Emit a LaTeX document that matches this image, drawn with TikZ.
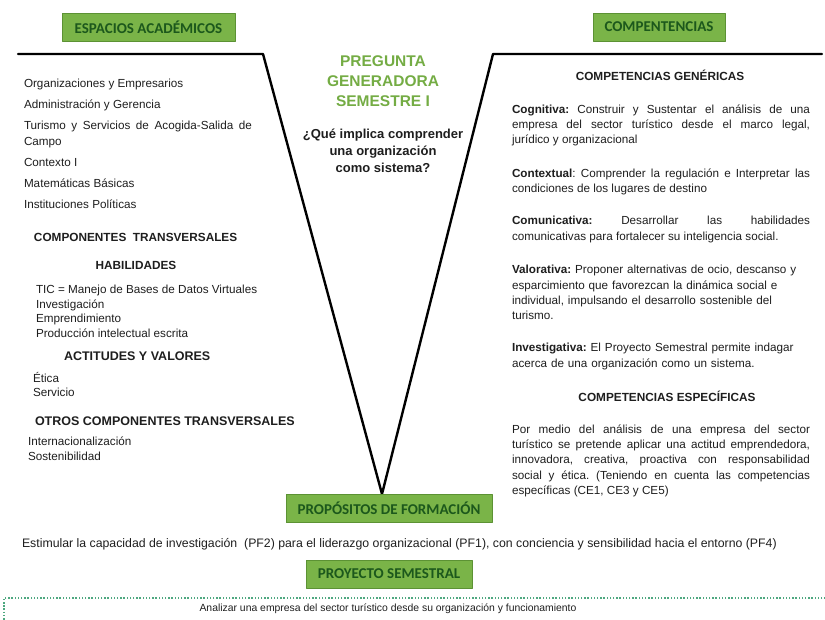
\documentclass[tikz,border=0pt]{standalone}
\usepackage{fontspec}
\setmainfont{Liberation Sans}
\newfontfamily\labelfont{Carlito}
\usetikzlibrary{positioning}
\definecolor{boxfill}{RGB}{122,180,72}
\definecolor{boxline}{RGB}{92,146,52}
\definecolor{boxtext}{RGB}{28,88,28}
\definecolor{pregreen}{RGB}{116,172,68}
\definecolor{dotline}{RGB}{78,168,128}
\definecolor{bodytext}{RGB}{30,30,30}

\begin{document}
\begin{tikzpicture}[x=1pt,y=-1pt,inner sep=0pt,outer sep=0pt,line cap=round,line join=round
  ,greenbox/.style={draw=boxline,fill=boxfill,line width=0.8pt,minimum height=28pt
    ,font=\labelfont\bfseries\fontsize{15}{18}\selectfont,text=boxtext}
  ,txt/.style={anchor=base west,font=\fontsize{11.7}{15.2}\selectfont,text=bodytext}
  ,head/.style={anchor=base west,font=\bfseries\fontsize{11.8}{15}\selectfont,text=bodytext}
  ,para/.style={anchor=north west,text width=298pt,align=justify
    ,font=\fontsize{11.7}{15.3}\selectfont\frenchspacing,text=bodytext}]
\def\colL{24};
\def\colR{512};
\useasboundingbox (0,0) rectangle (825,619);

% the V
\coordinate (LL) at (18,54);
\coordinate (LV) at (263,54);
\coordinate (VB) at (382,494);
\coordinate (RV) at (493,54);
\coordinate (RR) at (822,54);
\draw[line width=2.4pt] (LL) -- (LV) -- (VB) -- (RV) -- (RR);

% titles
\node[greenbox,minimum width=173pt] (espacios) at (148.5,27) {ESPACIOS ACADÉMICOS};
\node[greenbox,minimum width=132pt] (competencias) at (659,27) {COMPENTENCIAS};
\node[greenbox,minimum width=206pt] (propositos) at (389,508.5) {PROPÓSITOS DE FORMACIÓN};
\node[greenbox,minimum width=166pt] (proyecto) at (389,574) {PROYECTO SEMESTRAL};

% pregunta generadora
\node[anchor=north,align=center,font=\bfseries\fontsize{15.5}{20}\selectfont,text=pregreen]
  (pregunta) at (383,56) {PREGUNTA\\GENERADORA\\SEMESTRE I};
\node[anchor=north,align=center,font=\bfseries\fontsize{13}{17}\selectfont,text=bodytext]
  (question) at (383,128.5) {¿Qué implica comprender\\una organización\\como sistema?};

% espacios academicos
\foreach \yb/\lbl [count=\i] in {87/Organizaciones y Empresarios,108/Administración y Gerencia
  ,166/Contexto I,187/Matemáticas Básicas,208/Instituciones Políticas}
  \node[txt] (esp\i) at (\colL,\yb) {\lbl};
\node[txt,anchor=north west,text width=228pt,align=justify] (turismo) at (\colL,121.5)
  {Turismo y Servicios de Acogida-Salida de\linebreak Campo};

\node[head] (transv) at (34,241) {COMPONENTES\ \ TRANSVERSALES};
\node[head,anchor=base] (habil) at (136,269) {HABILIDADES};
\foreach \yb/\lbl [count=\i] in {293/TIC = Manejo de Bases de Datos Virtuales,308/Investigación
  ,322/Emprendimiento,337/Producción intelectual escrita}
  \node[txt] (hab\i) at (36,\yb) {\lbl};
\node[head,font=\bfseries\fontsize{12.5}{15}\selectfont] (actitudes) at (64,360) {ACTITUDES Y VALORES};
\node[txt] (etica) at (33,382) {Ética};
\node[txt] (servicio) at (33,396) {Servicio};
\node[head,font=\bfseries\fontsize{12.5}{15}\selectfont] (otros) at (35,425) {OTROS COMPONENTES TRANSVERSALES};
\node[txt] (internac) at (28,445) {Internacionalización};
\node[txt] (sosten) at (28,460) {Sostenibilidad};

% competencias
\node[head,anchor=base] (genericas) at (660,80) {COMPETENCIAS GENÉRICAS};
\node[para] (cognitiva) at (\colR,104.5) {\textbf{Cognitiva:} Construir y Sustentar el análisis de una\linebreak
  empresa del sector turístico desde el marco legal,\linebreak jurídico y organizacional};
\node[para] (contextual) at (\colR,168.5) {\textbf{Contextual}: Comprender la regulación e Interpretar las\linebreak
  condiciones de los lugares de destino};
\node[para] (comunicativa) at (\colR,216.5) {\textbf{Comunicativa:} Desarrollar las habilidades\linebreak
  comunicativas para fortalecer su inteligencia social.};
\node[para,align=left] (valorativa) at (\colR,265.5) {\textbf{Valorativa:} Proponer alternativas de ocio, descanso y\\
  esparcimiento que favorezcan la dinámica social e\\ individual, impulsando el desarrollo sostenible del\\ turismo.};
\node[para,align=left] (investigativa) at (\colR,343.5) {\textbf{Investigativa:} El Proyecto Semestral permite indagar\\
  acerca de una organización como un sistema.};
\node[head,anchor=base] (especificas) at (667,401) {COMPETENCIAS ESPECÍFICAS};
\node[para] (pormedio) at (\colR,424.5) {Por medio del análisis de una empresa del sector\linebreak
  turístico se pretende aplicar una actitud emprendedora,\linebreak innovadora, creativa, proactiva con responsabilidad\linebreak
  social y ética. (Teniendo en cuenta las competencias\linebreak específicas (CE1, CE3 y CE5)};

% propositos y proyecto
\node[txt,font=\fontsize{12.3}{15}\selectfont] (estimular) at (22,547) {Estimular la capacidad de investigación\ \ (PF2) para el liderazgo
  organizacional (PF1), con conciencia y sensibilidad hacia el entorno (PF4)};
\node[draw=dotline,line width=1.3pt,dash pattern=on 1.5pt off 1.7pt,line cap=butt,anchor=north west
  ,minimum width=840pt,minimum height=60pt] (marco) at (4,598) {};
\node[txt,anchor=base,font=\fontsize{10.4}{13}\selectfont] (analizar) at (388,611)
  {Analizar una empresa del sector turístico desde su organización y funcionamiento};

\end{tikzpicture}
\end{document}
